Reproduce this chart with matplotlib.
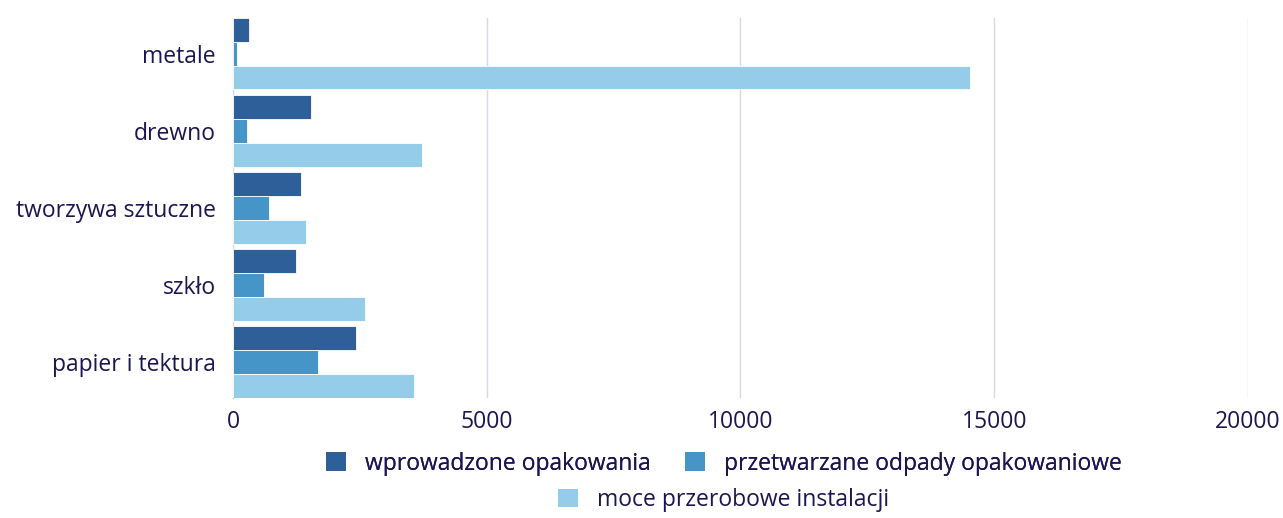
import matplotlib.pyplot as plt
import numpy as np
from matplotlib.patches import Patch

# data (tys. ton)
categories = ["papier i tektura", "szkło", "tworzywa sztuczne", "drewno", "metale"]
wprowadzone = [2430, 1248, 1346, 1537, 321]
przetwarzane = [1675, 604, 709, 282, 85]
moce = [3561, 2595, 1432, 3731, 14525]
series_names = ["wprowadzone opakowania", "przetwarzane odpady opakowaniowe",
                "moce przerobowe instalacji"]
colors = ["#2E5F98", "#4595C9", "#94CCE9"]
text_color = "#1B1552"

plt.rcParams["font.family"] = ["Open Sans", "DejaVu Sans"]
fs = 16.5

fig = plt.figure(figsize=(12.83, 5.18), dpi=100)
ax = fig.add_axes([0.1816, 0.2317, 0.7911, 0.7336])

y = np.arange(len(categories))
h = 0.311
for i, vals in enumerate([wprowadzone, przetwarzane, moce]):
    ax.barh(y + h * (1 - i), vals, height=h * 0.97, color=colors[i],
            edgecolor="white", linewidth=0.6, zorder=3)

ax.set_ylim(-1.5 * h, 4 + 1.5 * h)
ax.set_xlim(0, 20000)
ax.set_xticks([0, 5000, 10000, 15000, 20000])
ax.set_yticks(y)
ax.set_yticklabels(categories)
ax.tick_params(axis="both", length=0, labelsize=fs, colors=text_color)
ax.tick_params(axis="y", pad=12.5)
ax.tick_params(axis="x", pad=8.5)
ax.grid(axis="x", color="#D9D8E6", linewidth=1, zorder=0)
for s in ["top", "right", "bottom"]:
    ax.spines[s].set_visible(False)
ax.spines["left"].set_color("#B8B0C8")
ax.spines["left"].set_zorder(1)

handles = [Patch(facecolor=c) for c in colors]
leg_kw = dict(loc="center", frameon=False, fontsize=fs, labelcolor=text_color,
              handlelength=0.87, handleheight=0.87, handletextpad=0.83,
              borderpad=0, borderaxespad=0)
leg1 = fig.legend(handles[:2], series_names[:2], ncol=2, columnspacing=1.48,
                  bbox_to_anchor=(0.5643, 0.105), **leg_kw)
fig.legend(handles[2:], series_names[2:], bbox_to_anchor=(0.564, 0.035), **leg_kw)
fig.add_artist(leg1)

fig.savefig("out.png", dpi=100)
